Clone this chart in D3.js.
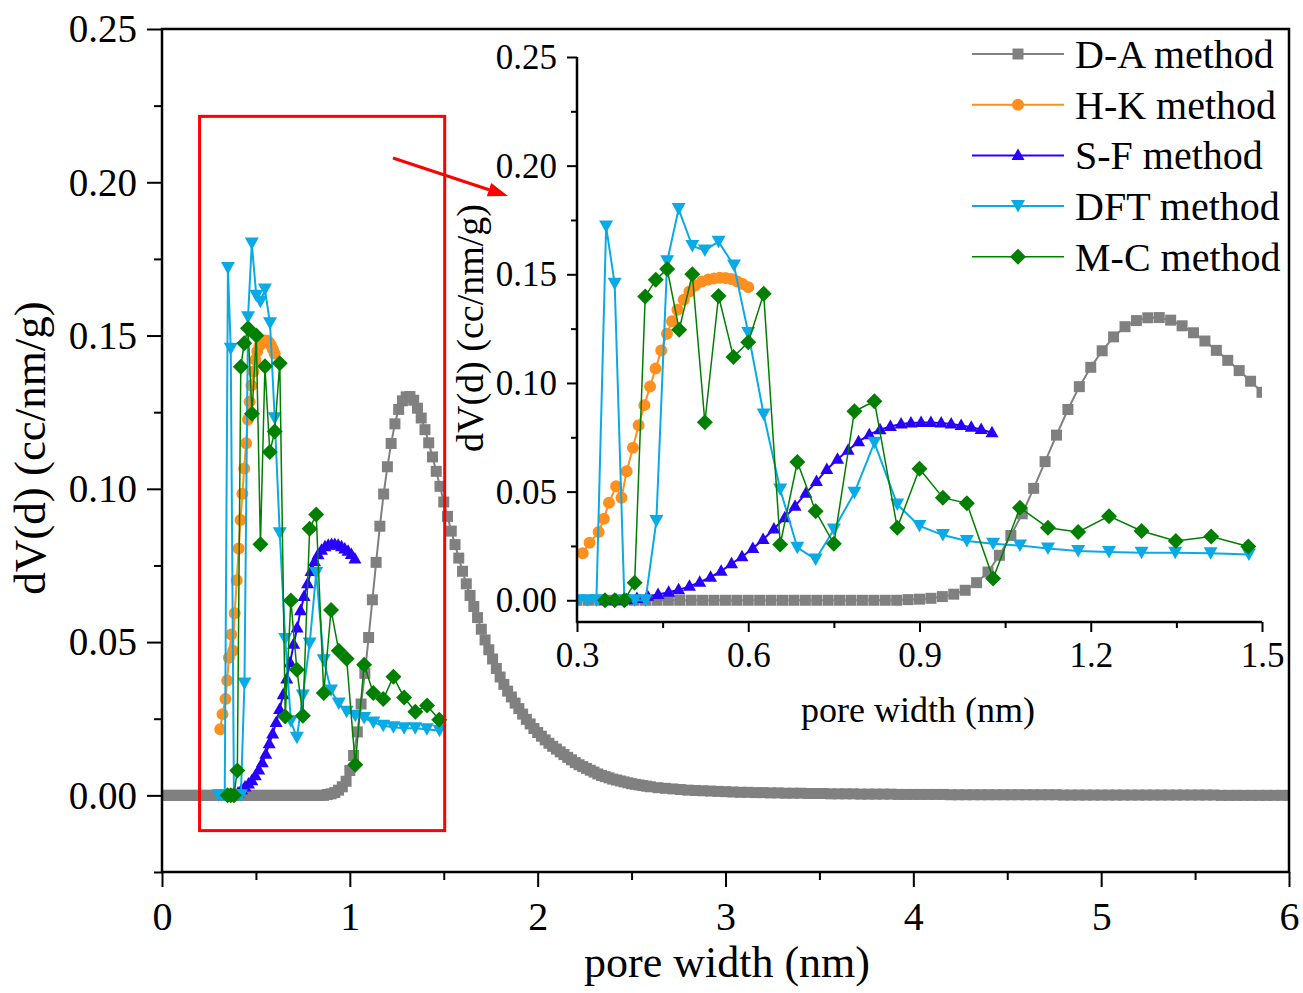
<!DOCTYPE html>
<html>
<head>
<meta charset="utf-8">
<script src="https://cdn.jsdelivr.net/npm/d3@7"></script>
<style>
  body { margin: 0; background: #fff; }
  text { font-family: "Liberation Serif", "Times New Roman", serif; fill: #000; }
</style>
</head>
<body>
<svg id="chart" width="1303" height="993"></svg>
<script>
// ---- data (pore width in nm, dV(d) in cc/nm/g) ----

// D-A method: sampled every 0.02 nm from 0 to 2.60, then every 0.04 nm from 2.64 to 6.00
let daCore = [
  0,0,0,0,0,0,0,0,0,0,
  0,0,0,0,0,0,0,0,0,0,
  0,0,0,0,0,0,0,0,0,0,
  0,0,0,0,0,0,0,0,0,0,
  0,0,0,0,0.0003,0.0005,0.0009,0.0017,0.0028,0.0046,
  0.0081,0.0130,0.0207,0.0298,0.0398,0.0515,0.0638,0.0760,0.0878,0.0983,
  0.1072,0.1148,0.1212,0.1259,0.1287,0.1300,0.1301,0.1289,0.1263,0.1231,
  0.1193,0.1150,0.1104,0.1057,0.1008,0.0957,0.0910,0.0862,0.0818,0.0774,
  0.0731,0.0690,0.0652,0.0616,0.0580,0.0542,0.0507,0.0475,0.0445,0.0414,
  0.0386,0.0362,0.0340,0.0321,0.0301,0.0283,0.0265,0.0248,0.0233,0.0218,
  0.0205,0.0193,0.0181,0.0170,0.0160,0.0151,0.0142,0.0133,0.0124,0.0116,
  0.0107,0.0100,0.0094,0.0088,0.0082,0.0076,0.0070,0.0065,0.0061,0.0057,
  0.0053,0.0050,0.0047,0.0044,0.0041,0.0038,0.0036,0.0034,0.0032,0.0030,
  0.0028
];
let daTail = [
  0.0025,0.0023,0.0021,0.0019,0.0017,0.0016,0.0015,0.0014,0.0013,0.0012,
  0.0011,0.0010,0.0010,0.0009,0.0009,0.0008,0.0008,0.0007,0.0007,0.0007,
  0.0006,0.0006,0.0006,0.0005,0.0005,0.0005,0.0005,0.0004,0.0004,0.0004,
  0.0004,0.0004,0.0003,0.0003,0.0003,0.0003,0.0003,0.0003,0.0003,0.0002,
  0.0002,0.0002,0.0002,0.0002,0.0002,0.0002,0.0002,0.0002,0.0002,0.0002,
  0.0002,0.0002,0.0002,0.0002,0.0001,0.0001,0.0001,0.0001,0.0001,0.0001,
  0.0001,0.0001,0.0001,0.0001,0.0001,0.0001,0.0001,0.0001,0.0001,0.0001,
  0.0001,0.0001,0.0001,0.0001,0.0001,0,0,0,0,0,
  0,0,0,0,0
];

let hkX = [0.310,0.322,0.338,0.347,0.356,0.3685,0.378,0.387,0.398,0.408,0.418,0.428,0.4376,0.4476,0.4576,
  0.4664,0.476,0.487,0.497,0.507,0.519,0.530,0.540,0.550,0.560,0.570,0.580,0.590,0.600];
let hkY = [0.0216,0.0265,0.0314,0.0375,0.0449,0.0525,0.0472,0.0594,0.0702,0.0805,0.0898,0.0984,0.1066,0.1149,0.1226,
  0.1284,0.1337,0.1383,0.1421,0.1448,0.1467,0.1476,0.1481,0.1484,0.1483,0.1478,0.1468,0.1455,0.1441];

let sfX = [0.350,0.369,0.387,0.405,0.4236,0.442,0.4605,0.478,0.497,0.515,0.534,0.5525,0.5707,0.589,0.608,0.626,
  0.645,0.664,0.682,0.701,0.7195,0.7376,0.7564,0.775,0.7933,0.812,0.8308,0.849,0.8677,0.885,0.9028,0.920,
  0.938,0.9555,0.973,0.9907,1.008,1.027];
let sfY = [0,0,0.0002,0.0008,0.0018,0.0027,0.0037,0.0048,0.0064,0.0083,0.0106,0.0134,0.0168,0.0200,0.0238,0.0280,
  0.0328,0.0380,0.0433,0.0493,0.0546,0.0602,0.0649,0.0690,0.0730,0.0762,0.0785,0.0800,0.0811,0.0816,0.0818,0.0818,
  0.0816,0.0811,0.0804,0.0796,0.0786,0.0771];

let dftX = [0.302,0.318,0.334,0.351,0.366,0.383,0.401,0.420,0.439,0.458,0.478,0.502,0.524,0.548,0.575,0.600,
  0.627,0.656,0.686,0.718,0.750,0.786,0.821,0.861,0.900,0.941,0.983,1.029,1.076,1.125,1.178,1.232,1.289,
  1.348,1.410,1.477];
let dftY = [0,0,0,0.172,0.1457,0,0,0,0.0365,0.156,0.180,0.163,0.161,0.165,0.154,0.123,
  0.0855,0.051,0.0242,0.0188,0.0326,0.0495,0.0725,0.0441,0.0342,0.0300,0.0273,0.0260,0.0252,0.0238,0.0227,0.0222,0.0219,
  0.0219,0.0216,0.0211];

let mcX = [0.349,0.366,0.383,0.401,0.4195,0.438,0.458,0.479,0.502,0.524,0.548,0.574,0.600,0.627,0.656,0.686,
  0.718,0.750,0.786,0.821,0.861,0.900,0.941,0.983,1.029,1.076,1.125,1.178,1.232,1.289,1.349,1.411,1.476];
let mcY = [0,0,0,0.0081,0.1398,0.1475,0.1524,0.1245,0.150,0.0819,0.140,0.112,0.1187,0.141,0.0257,0.0636,
  0.041,0.026,0.087,0.0916,0.0334,0.0605,0.0472,0.0446,0.010,0.0426,0.0334,0.0314,0.0387,0.0319,0.0273,0.0293,0.0247];

let mainXTicks = [0, 1, 2, 3, 4, 5, 6];
let mainYTicks = [0, 0.05, 0.10, 0.15, 0.20, 0.25];
let insetXTicks = [0.3, 0.6, 0.9, 1.2, 1.5];
let insetYTicks = [0, 0.05, 0.10, 0.15, 0.20, 0.25];

// D-A grid positions
let daX = daCore.map((v, i) => +(i * 0.02).toFixed(2))
  .concat(daTail.map((v, i) => +(2.64 + i * 0.04).toFixed(2)));
let daY = daCore.concat(daTail);

let shapes = {
  square: 'M-5.5,-5.5h11v11h-11z',
  circle: d3.symbol(d3.symbolCircle, 113)(),
  triangle: 'M0,-7L6.5,4.5L-6.5,4.5Z',
  triangleDown: 'M0,6.5L7,-6L-7,-6Z',
  diamond: 'M0,-8L8,0L0,8L-8,0Z'
};

let series = [
  { name: 'D-A method', x: daX, y: daY, color: '#808080', shape: 'square', lw: 2 },
  { name: 'H-K method', x: hkX, y: hkY, color: '#FF8F1F', shape: 'circle', lw: 2 },
  { name: 'S-F method', x: sfX, y: sfY, color: '#2800FF', shape: 'triangle', lw: 2 },
  { name: 'DFT method', x: dftX, y: dftY, color: '#0AAAE6', shape: 'triangleDown', lw: 2 },
  { name: 'M-C method', x: mcX, y: mcY, color: '#007F00', shape: 'diamond', lw: 1.5 }
];

let svg = d3.select('#chart');

let drawSeries = (layer, x, y) => {
  series.forEach((s) => {
    let pts = s.x.map((xv, i) => [xv, s.y[i]]);
    layer.append('path')
      .datum(pts)
      .attr('d', d3.line().x(d => x(d[0])).y(d => y(d[1])))
      .attr('fill', 'none')
      .attr('stroke', s.color)
      .attr('stroke-width', s.lw);
    layer.selectAll(null)
      .data(pts)
      .enter()
      .append('path')
      .attr('d', shapes[s.shape])
      .attr('transform', d => `translate(${x(d[0])},${y(d[1])})`)
      .attr('fill', s.color);
  });
};

let styleAxis = (g, size) => {
  g.select('.domain').remove();
  g.selectAll('line').attr('stroke', '#000').attr('stroke-width', 2);
  g.selectAll('text').style('font-size', size + 'px').attr('fill', '#000');
};

// ---- main chart ----
let xMain = d3.scaleLinear().domain([0, 6]).range([162, 1289]);
let yMain = d3.scaleLinear().domain([-0.025, 0.25]).range([872, 29]);

svg.append('clipPath').attr('id', 'clipMain')
  .append('rect').attr('x', 162).attr('y', 29).attr('width', 1127).attr('height', 843);

drawSeries(svg.append('g').attr('clip-path', 'url(#clipMain)'), xMain, yMain);

svg.append('rect')
  .attr('x', 162).attr('y', 29).attr('width', 1127).attr('height', 843)
  .attr('fill', 'none').attr('stroke', '#000').attr('stroke-width', 2.5);

svg.append('g').attr('transform', 'translate(0,872)')
  .call(d3.axisBottom(xMain).tickValues(mainXTicks).tickSize(15).tickFormat(d3.format('d')))
  .call(g => styleAxis(g, 40))
  .call(g => g.selectAll('text').attr('y', 58).attr('dy', null));
svg.append('g').attr('transform', 'translate(0,872)')
  .call(d3.axisBottom(xMain).tickValues(d3.range(0.5, 6, 1)).tickSize(8).tickFormat(''))
  .call(g => styleAxis(g, 40));

svg.append('g').attr('transform', 'translate(162,0)')
  .call(d3.axisLeft(yMain).tickValues(mainYTicks).tickSize(15).tickFormat(d3.format('.2f')))
  .call(g => styleAxis(g, 39))
  .call(g => g.selectAll('text').attr('x', -25).attr('dy', '0.33em'));
svg.append('g').attr('transform', 'translate(162,0)')
  .call(d3.axisLeft(yMain).tickValues(d3.range(-0.025, 0.25, 0.05)).tickSize(8).tickFormat(''))
  .call(g => styleAxis(g, 39));

svg.append('text')
  .attr('x', 727).attr('y', 977)
  .attr('text-anchor', 'middle')
  .style('font-size', '44px')
  .text('pore width (nm)');
svg.append('text')
  .attr('transform', 'translate(45,448) rotate(-90)')
  .attr('text-anchor', 'middle')
  .style('font-size', '45px')
  .text('dV(d) (cc/nm/g)');

// zoom box and arrow
svg.append('rect')
  .attr('x', xMain(0.2)).attr('y', yMain(0.2215))
  .attr('width', xMain(1.505) - xMain(0.2))
  .attr('height', yMain(-0.0115) - yMain(0.2215))
  .attr('fill', 'none').attr('stroke', '#FF0000').attr('stroke-width', 3);

let arrowFrom = [393, 158], arrowTo = [508, 196];
let dx = arrowTo[0] - arrowFrom[0], dy = arrowTo[1] - arrowFrom[1];
let len = Math.hypot(dx, dy), ux = dx / len, uy = dy / len;
let base = [arrowTo[0] - 20 * ux, arrowTo[1] - 20 * uy];
svg.append('line')
  .attr('x1', arrowFrom[0]).attr('y1', arrowFrom[1])
  .attr('x2', base[0]).attr('y2', base[1])
  .attr('stroke', '#FF0000').attr('stroke-width', 3);
svg.append('path')
  .attr('d', `M${arrowTo[0]},${arrowTo[1]}L${base[0] - 7 * uy},${base[1] + 7 * ux}L${base[0] + 7 * uy},${base[1] - 7 * ux}Z`)
  .attr('fill', '#FF0000');

// ---- inset ----
let xIn = d3.scaleLinear().domain([0.3, 1.5]).range([577, 1262]);
let yIn = d3.scaleLinear().domain([-0.01, 0.25]).range([622, 57]);

svg.append('clipPath').attr('id', 'clipInset')
  .append('rect').attr('x', 577).attr('y', 40).attr('width', 685).attr('height', 582);

drawSeries(svg.append('g').attr('clip-path', 'url(#clipInset)'), xIn, yIn);

svg.append('line').attr('x1', 577).attr('x2', 577).attr('y1', 57).attr('y2', 623)
  .attr('stroke', '#000').attr('stroke-width', 2.5);
svg.append('line').attr('x1', 576).attr('x2', 1262).attr('y1', 622).attr('y2', 622)
  .attr('stroke', '#000').attr('stroke-width', 2.5);

svg.append('g').attr('transform', 'translate(0,622)')
  .call(d3.axisBottom(xIn).tickValues(insetXTicks).tickSize(10).tickFormat(d3.format('.1f')))
  .call(g => styleAxis(g, 35))
  .call(g => g.selectAll('text').attr('y', 45).attr('dy', null));
svg.append('g').attr('transform', 'translate(0,622)')
  .call(d3.axisBottom(xIn).tickValues([0.45, 0.75, 1.05, 1.35]).tickSize(6).tickFormat(''))
  .call(g => styleAxis(g, 35));

svg.append('g').attr('transform', 'translate(577,0)')
  .call(d3.axisLeft(yIn).tickValues(insetYTicks).tickSize(10).tickFormat(d3.format('.2f')))
  .call(g => styleAxis(g, 35))
  .call(g => g.selectAll('text').attr('x', -20).attr('dy', '0.33em'));
svg.append('g').attr('transform', 'translate(577,0)')
  .call(d3.axisLeft(yIn).tickValues(d3.range(0.025, 0.25, 0.05)).tickSize(6).tickFormat(''))
  .call(g => styleAxis(g, 35));

svg.append('text')
  .attr('x', 918).attr('y', 722)
  .attr('text-anchor', 'middle')
  .style('font-size', '36px')
  .text('pore width (nm)');
svg.append('text')
  .attr('transform', 'translate(483,328) rotate(-90)')
  .attr('text-anchor', 'middle')
  .style('font-size', '38px')
  .text('dV(d) (cc/nm/g)');

// ---- legend ----
let legend = svg.append('g');
series.forEach((s, i) => {
  let cy = 54 + i * 50.7;
  legend.append('line')
    .attr('x1', 972).attr('x2', 1064).attr('y1', cy).attr('y2', cy)
    .attr('stroke', s.color).attr('stroke-width', s.lw);
  legend.append('path')
    .attr('d', shapes[s.shape])
    .attr('transform', `translate(1018,${cy})`)
    .attr('fill', s.color);
  legend.append('text')
    .attr('x', 1075).attr('y', cy + 14)
    .style('font-size', '40px')
    .text(s.name);
});
</script>
</body>
</html>
